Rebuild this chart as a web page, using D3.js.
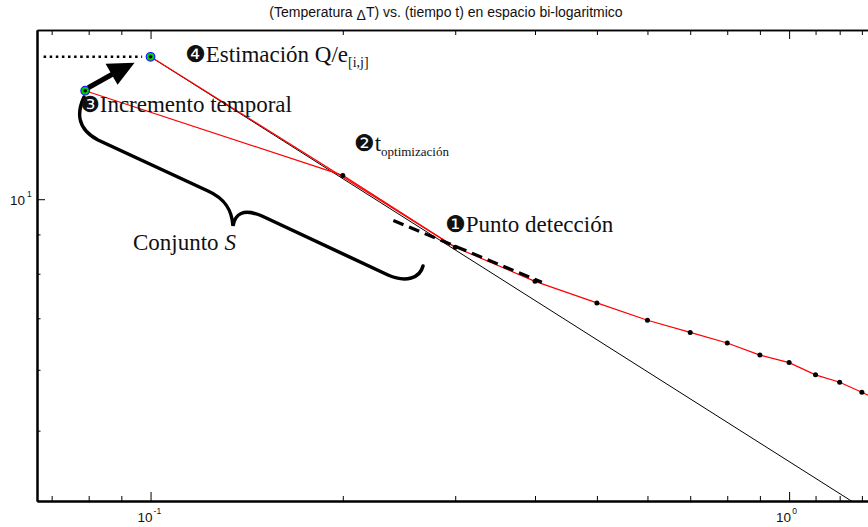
<!DOCTYPE html>
<html>
<head>
<meta charset="utf-8">
<script src="https://cdn.jsdelivr.net/npm/d3@7"></script>
<style>
  body { margin: 0; background: #fff; }
  svg { display: block; }
  .serif { font-family: "Liberation Serif", "Times New Roman", serif; fill: #111; }
  .dingbat { font-family: "DejaVu Sans", sans-serif; }
</style>
</head>
<body>
<svg id="chart" width="868" height="527"></svg>
<script>
// measured points (tiempo t, temperatura ΔT)
const tMeas = [0.2, 0.3, 0.4, 0.5, 0.6, 0.7, 0.8, 0.9, 1.0, 1.1, 1.2, 1.3, 1.4];
const TMeas = [10.74, 8.66, 7.82, 7.33, 6.96, 6.71, 6.50, 6.27, 6.13, 5.91, 5.78, 5.61, 5.45];

// selected points: incremento temporal / estimación
const tSel = [0.079, 0.1];
const TSel = [13.84, 15.32];

// straight fit line (black)
const tFit = [0.1, 1.3];
const TFit = [15.32, 3.97];

// dashed tangent at punto detección
const tTan = [0.24, 0.41];
const TTan = [9.38, 7.80];

// dotted level of the estimación point
const tLevel = [0.068, 0.097];

// ticks
const xMajor = [0.1, 1];
const xMinor = [0.07, 0.08, 0.09, 0.2, 0.3, 0.4, 0.5, 0.6, 0.7, 0.8, 0.9, 1.1, 1.2, 1.3];
const yMajor = [10];
const yMinor = [5, 6, 7, 8, 9];

const svg = d3.select("#chart");
const L = 37, R = 868, T = 30, B = 501;

const x = d3.scaleLog().domain([0.0664, 1.329]).range([L, R]);
const y = d3.scaleLog().domain([4.05, 16.6]).range([B, T]);

// title
const title = svg.append("text")
  .attr("x", 446).attr("y", 17)
  .attr("text-anchor", "middle")
  .style("font-family", "'Liberation Sans', Arial, sans-serif")
  .style("font-size", "14px")
  .attr("fill", "#111");
title.append("tspan").text("(Temperatura  ");
title.append("tspan").attr("dy", 3).text("\u0394");
title.append("tspan").attr("dy", -3).text("T) vs. (tiempo t) en espacio bi-logaritmico");

svg.append("clipPath").attr("id", "plotclip")
  .append("rect").attr("x", L).attr("y", T).attr("width", R - L).attr("height", B - T);

const plot = svg.append("g").attr("clip-path", "url(#plotclip)");

// axes (ticks inward)
function axisG(axis, tr, w) {
  const g = svg.append("g").attr("transform", tr).call(axis);
  g.select(".domain").attr("stroke", "#000").attr("stroke-width", w);
  g.selectAll(".tick line").attr("stroke", "#000").attr("stroke-width", 1);
  g.selectAll(".tick text").remove();
  return g;
}
axisG(d3.axisBottom(x).tickValues(xMinor).tickSize(-5).tickSizeOuter(0), `translate(0,${B})`, 2);
axisG(d3.axisBottom(x).tickValues(xMajor).tickSize(-9).tickSizeOuter(0), `translate(0,${B})`, 2);
axisG(d3.axisTop(x).tickValues(xMinor).tickSize(-5).tickSizeOuter(0), `translate(0,${T})`, 1.5);
axisG(d3.axisTop(x).tickValues(xMajor).tickSize(-9).tickSizeOuter(0), `translate(0,${T})`, 1.5);
axisG(d3.axisLeft(y).tickValues(yMinor).tickSize(-3.5).tickSizeOuter(0), `translate(${L},0)`, 2);
axisG(d3.axisLeft(y).tickValues(yMajor).tickSize(-8).tickSizeOuter(0), `translate(${L},0)`, 2);

// tick labels 10^n
const lab = { "0.1": "-1", "1": "0", "10": "1" };
const tickFont = "'Liberation Sans', Arial, sans-serif";
xMajor.forEach(v => {
  const t = svg.append("text").attr("x", x(v) - 13).attr("y", 522)
    .style("font-family", tickFont).style("font-size", "13.5px").attr("fill", "#111");
  t.append("tspan").text("10");
  t.append("tspan").attr("dy", -8).attr("dx", 1).style("font-size", "8.5px").text(lab[String(v)]);
});
yMajor.forEach(v => {
  const t = svg.append("text").attr("x", 10).attr("y", y(v) + 6)
    .style("font-family", tickFont).style("font-size", "13.5px").attr("fill", "#111");
  t.append("tspan").text("10");
  t.append("tspan").attr("dy", -8).attr("dx", 2).style("font-size", "8.5px").text(lab[String(v)]);
});

const line = d3.line().x(d => x(d[0])).y(d => y(d[1]));

// fit line
plot.append("path")
  .attr("d", line(d3.zip(tFit, TFit)))
  .attr("fill", "none").attr("stroke", "#000").attr("stroke-width", 1);

// red curves
const redMain = [[tSel[0], TSel[0]]].concat(d3.zip(tMeas, TMeas));
plot.append("path")
  .attr("d", line(redMain))
  .attr("fill", "none").attr("stroke", "#ff0000").attr("stroke-width", 1.2);
plot.append("path")
  .attr("d", line([[tSel[1], TSel[1]], [tMeas[1], TMeas[1]]]))
  .attr("fill", "none").attr("stroke", "#ff0000").attr("stroke-width", 1.2);

// dashed tangent
plot.append("path")
  .attr("d", line(d3.zip(tTan, TTan)))
  .attr("fill", "none").attr("stroke", "#000").attr("stroke-width", 3.2)
  .attr("stroke-dasharray", "11,6");

// dotted level
plot.append("path")
  .attr("d", line(tLevel.map(t => [t, TSel[1]])))
  .attr("fill", "none").attr("stroke", "#000").attr("stroke-width", 2.6)
  .attr("stroke-dasharray", "2.5,3.6");

// measured dots
plot.selectAll(".dot").data(d3.zip(tMeas, TMeas)).join("circle")
  .attr("class", "dot")
  .attr("cx", d => x(d[0])).attr("cy", d => y(d[1]))
  .attr("r", 2.5).attr("fill", "#000");

// selected points
const sel = d3.zip(tSel, TSel);
plot.selectAll(".sel").data(sel).join("circle")
  .attr("class", "sel")
  .attr("cx", d => x(d[0])).attr("cy", d => y(d[1]))
  .attr("r", 4.3).attr("fill", "#00cc00").attr("stroke", "#1a1aff").attr("stroke-width", 1.2);
plot.selectAll(".selc").data(sel).join("circle")
  .attr("class", "selc")
  .attr("cx", d => x(d[0])).attr("cy", d => y(d[1]))
  .attr("r", 1.8).attr("fill", "#000");

// arrow from incremento to estimación
const p3 = [x(tSel[0]), y(TSel[0])];
const p4 = [x(tSel[1]), y(TSel[1])];
svg.append("path")
  .attr("d", `M${p3[0] + 3},${p3[1] - 3} L${p3[0] + 28},${p3[1] - 17}`)
  .attr("stroke", "#000").attr("stroke-width", 5).attr("fill", "none");
svg.append("path")
  .attr("d", `M${p4[0] - 16},${p4[1] + 6} L${p4[0] - 45},${p4[1] + 7} L${p4[0] - 33},${p4[1] + 28} Z`)
  .attr("fill", "#000");

// brace "Conjunto S"
svg.append("path")
  .attr("d", "M84,97 C77,112 76,128 98,140 L208,191 C226,199 232,211 233,226 C235,214 243,208 262,216 L388,275 C406,283 420,278 423,266")
  .attr("fill", "none").attr("stroke", "#000").attr("stroke-width", 3.5).attr("stroke-linecap", "round");

// annotations
function note(xp, yp, glyph, gsize, main, sub, subSize) {
  const t = svg.append("text").attr("class", "serif").attr("x", xp).attr("y", yp)
    .style("font-size", "23px");
  t.append("tspan").attr("class", "dingbat").style("font-size", gsize + "px").text(glyph);
  t.append("tspan").text(main);
  if (sub) t.append("tspan").attr("dy", 5).style("font-size", subSize + "px").text(sub);
  return t;
}
note(185, 62, "\u2779", 23, "Estimaci\u00f3n Q/e", "[i,j]", 14);
note(80, 112, "\u2778", 22, "Incremento temporal");
note(354, 151, "\u2777", 23, "t", "optimizaci\u00f3n", 13);
note(445, 232, "\u2776", 23, "Punto detecci\u00f3n");

const cs = svg.append("text").attr("class", "serif").attr("x", 133).attr("y", 250)
  .style("font-size", "23px");
cs.append("tspan").text("Conjunto ");
cs.append("tspan").style("font-style", "italic").text("S");
</script>
</body>
</html>
